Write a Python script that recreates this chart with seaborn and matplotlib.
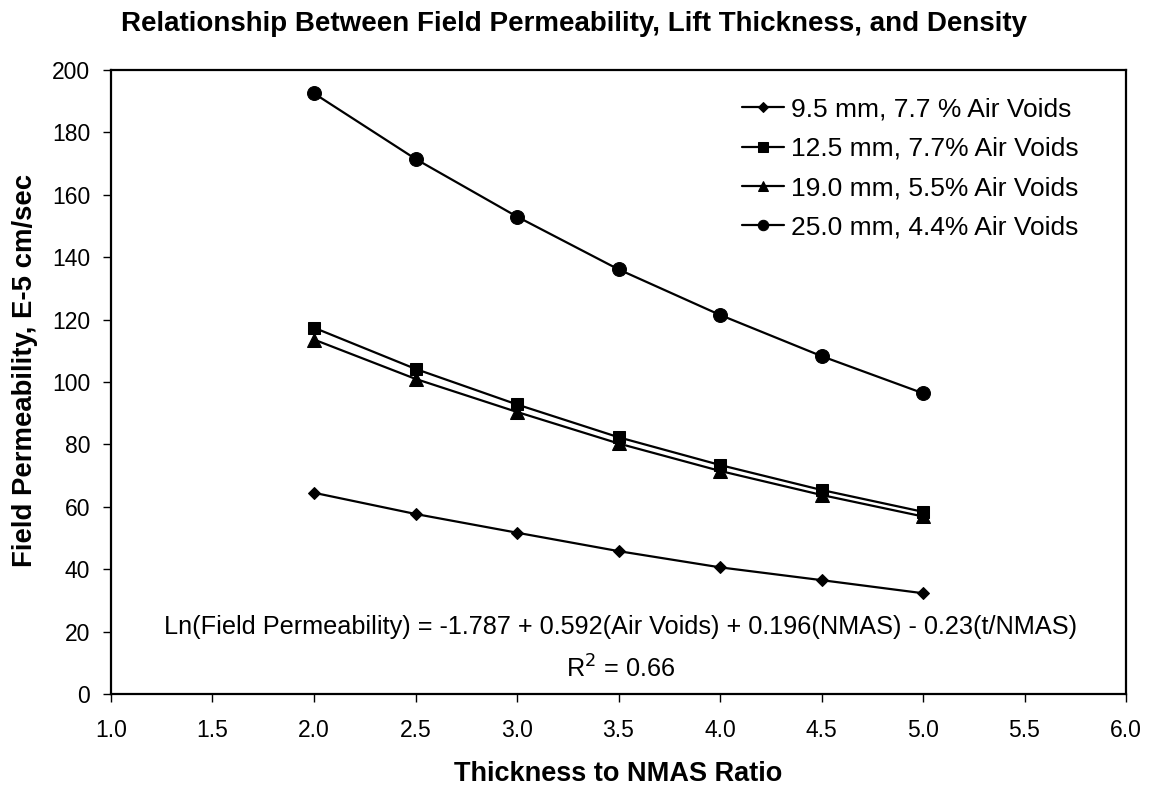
import matplotlib
matplotlib.use("Agg")
import matplotlib.pyplot as plt
import seaborn as sns
import pandas as pd

ratio = [2.0, 2.5, 3.0, 3.5, 4.0, 4.5, 5.0]
s95 = [64.5, 57.7, 51.7, 45.8, 40.6, 36.5, 32.3]
s125 = [117.4, 104.2, 92.8, 82.3, 73.4, 65.4, 58.4]
s190 = [113.6, 101.0, 90.4, 80.3, 71.5, 63.8, 56.9]
s250 = [192.5, 171.5, 153.0, 136.1, 121.5, 108.3, 96.4]
names = ["9.5 mm, 7.7 % Air Voids", "12.5 mm, 7.7% Air Voids",
         "19.0 mm, 5.5% Air Voids", "25.0 mm, 4.4% Air Voids"]
xtick_vals = [1.0, 1.5, 2.0, 2.5, 3.0, 3.5, 4.0, 4.5, 5.0, 5.5, 6.0]
ytick_vals = [0, 20, 40, 60, 80, 100, 120, 140, 160, 180, 200]
series = [s95, s125, s190, s250]
markers = ["D", "s", "^", "o"]
msizes = [6.5, 9, 9.5, 10]
leg_msizes = [5.5, 7, 7.5, 7.5]

rows = []
for n, vals in zip(names, series):
    for x, y in zip(ratio, vals):
        rows.append({"ratio": x, "perm": y, "series": n})
df = pd.DataFrame(rows)

sns.set_style("white")
plt.rcParams['font.family'] = ['Liberation Sans', 'DejaVu Sans']
plt.rcParams['text.color'] = 'black'
plt.rcParams['axes.labelcolor'] = 'black'
plt.rcParams['xtick.color'] = 'black'
plt.rcParams['ytick.color'] = 'black'

fig = plt.figure(figsize=(11.49, 7.90), dpi=100)
ax = fig.add_axes([0.0966, 0.1215, 0.8834, 0.7899])

for n, m, ms in zip(names, markers, msizes):
    sub = df[df["series"] == n]
    sns.lineplot(data=sub, x="ratio", y="perm", ax=ax, color="black",
                 marker=m, markersize=ms, markeredgecolor="black",
                 linewidth=1.6, label=n, estimator=None, sort=True)

ax.set_xlim(1.0, 6.0)
ax.set_ylim(0, 200)
ax.set_xticks(xtick_vals)
ax.set_xticklabels([f"{v:.1f}" for v in xtick_vals])
ax.set_yticks(ytick_vals)
ax.set_yticklabels([str(v) for v in ytick_vals])
ax.tick_params(axis="both", direction="out", length=6, width=1, labelsize=16.5,
               color="black", labelcolor="black", bottom=True, left=True)
ax.tick_params(axis="x", pad=12)
ax.tick_params(axis="y", pad=9)
for sp in ax.spines.values():
    sp.set_color("black")
    sp.set_linewidth(1.6)

ax.set_xlabel("Thickness to NMAS Ratio", fontsize=19.5, fontweight="bold", color="black")
ax.xaxis.set_label_coords(0.5, -0.128)
ax.xaxis.label.set_va("center")
ax.set_ylabel("Field Permeability, E-5 cm/sec", fontsize=19.8, fontweight="bold", color="black")
ax.yaxis.set_label_coords((25 - 111) / 1015, (694 - 370) / 624)
ax.yaxis.label.set_va("center")

fig.text(574 / 1149, 1 - 24 / 790,
         "Relationship Between Field Permeability, Lift Thickness, and Density",
         ha="center", va="center", fontsize=20, fontweight="bold", color="black")

ax.text(3.512, 21.6, "Ln(Field Permeability) = -1.787 + 0.592(Air Voids) + 0.196(NMAS) - 0.23(t/NMAS)",
        ha="center", va="center", fontsize=18.2, color="black")
ax.text(3.512, 8.0, "R$^2$ = 0.66", ha="center", va="center", fontsize=18.2, color="black")

leg = ax.legend(loc="upper right", bbox_to_anchor=(0.953, 0.956), frameon=False,
                fontsize=19, handlelength=1.6, handletextpad=0.25,
                labelspacing=0.58, borderpad=0.0, borderaxespad=0.0,
                labelcolor="black")
for h, lm in zip(leg.legend_handles, leg_msizes):
    h.set_markersize(lm)

fig.savefig("out.png", dpi=100)
